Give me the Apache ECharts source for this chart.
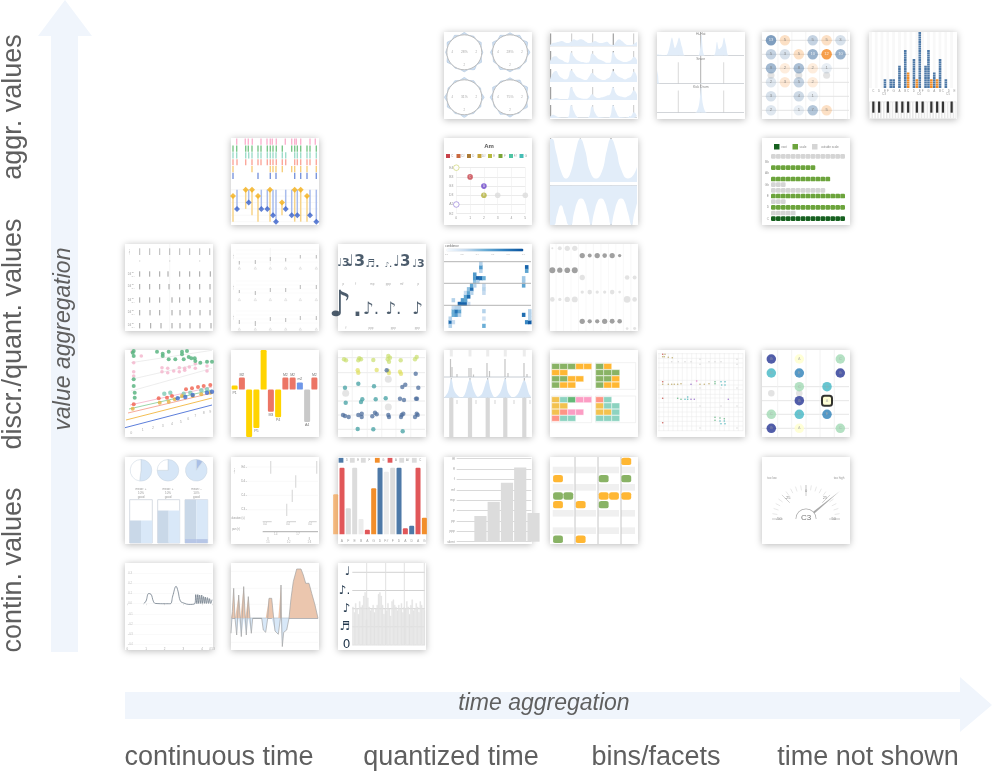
<!DOCTYPE html>
<html><head><meta charset="utf-8">
<style>html,body{margin:0;padding:0;background:#fff}#c{width:997px;height:773px;filter:blur(.35px)}</style>
<script src="https://cdn.jsdelivr.net/npm/echarts@6/dist/echarts.min.js"></script>
</head><body><div id="c"></div>
<script>
// ---------- Labels ----------
const yLabels=[['aggr. values',107],['discr./quant. values',334],['contin. values',570]];
const xLabels=[['continuous time',219],['quantized time',451],['bins/facets',656],['time not shown',868]];

// ---------- Row 0 data ----------
const ringPct=['28%','28%','31%','75%'];
const ringA=[1.14,1,1.07,1,1.12,1,1.06,1,1.14,1,1.17,1,1.12,1,1.05,1,1.14,1,1.07,1,1.14,1,1.12,1];
const ringB=[1.12,1,1.12,1,1.17,1,1.15,1,1.07,1,1.09,1,1.12,1,1.14,1,1.09,1,1.12,1,1.15,1,1.12,1];
const ringC=[1.14,1,1.09,1,1.07,1,1.14,1,1.09,1,1.07,1,1.17,1,1.07,1,1.12,1,1.14,1,1.07,1,1.09,1];
const ringD=[1.12,1,1.14,1,1.17,1,1.07,1,1.15,1,1.05,1,1.14,1,1.12,1,1.05,1,1.14,1,1.15,1,1.07,1];
const pracRow1=[.1,.25,.3,.35,.4,.3,.25,.35,.55,.45,.55,.5,.35,.25,.3,.4,.3,.25,.3,.35,.15,.1,.35,.55,.4,.2,.1,.1,.2,.35];
const pracRow2=[.2,.55,.6,.4,.3,.15,.1,.9,.55,.3,.2,.15,.1,.15,.8,.65,.4,.3,.2,.1,.1,.95,.5,.3,.2,.15,.2,.3,.55,.3];
const pracRow3=[.2,.7,.85,.5,.3,.2,.3,.9,.7,.4,.3,.2,.15,.4,.7,.5,.3,.2,.15,.25,.4,.85,.6,.4,.3,.2,.3,.4,.8,.4];
const pracRow4=[.05,.1,.15,.1,.05,.05,.1,1,.6,.25,.15,.1,.1,.2,.45,.25,.15,.2,.25,.35,.45,1,.5,.3,.25,.2,.3,.45,.75,.4];
const pracRow5=[.1,.25,.15,.05,.02,.02,.05,1,.5,.1,.02,.02,.02,.1,.9,.4,.1,.05,.02,.02,.1,1,.5,.1,.05,.02,.05,.15,.45,.15];
const drumNames=['Hi-Hat','Snare','Kick Drum'];
const hiHat=[[0,.05],[9,.02],[12,.3],[15,.85],[18,.35],[20,.55],[22,.85],[25,.4],[28,0],[41,0],[43,.3],[44.5,1],[46,.2],[48,0],[57,.02],[60,.65],[62,.3],[65,.45],[67,.85],[69,.5],[72,0],[87,0]];
const snare=[[0,.55],[1,.35],[3,0],[42,0],[44,.02],[46,0],[87,0]];
const kick=[[0,0],[38,0],[42,.3],[44,1],[46,.3],[50,0],[87,0]];
const chordCounts=[[0,0,13,'b'],[1,0,5,'o'],[3,0,5,'b'],[4,0,5,'o'],[5,0,3,'b'],[0,1,5,'b'],[1,1,3,'b'],[2,1,5,'o'],[3,1,10,'b'],[4,1,12,'o'],[5,1,10,'b'],[0,2,9,'b'],[1,2,2,'o'],[2,2,8,'b'],[3,2,2,'o'],[4,2,1,'b'],[0,3,2,'b'],[1,3,3,'o'],[2,3,5,'b'],[3,3,2,'o'],[0,4,3,'b'],[2,4,4,'b'],[3,4,1,'b'],[0,5,2,'b'],[2,5,1,'b'],[3,5,7,'b'],[4,5,5,'o']];
const chordMissing=[[0,2.5],[2,2.5],[4,2.5]];
const pianoNotes=['','C','','D','','E','F','','G','','A','','B','C','','D','','E','F','','G','','A','','B','C','','D','','E'];
const pianoBlue=[[5,3],[7,3],[8,3],[10,9],[12,16],[15,12],[17,24],[19,9],[20,16],[22,6],[24,12],[26,3]];
const pianoOrange=[[13,6],[16,3],[21,3],[23,3]];
const pianoBlack=[1,3,6,9,11,13,16,18,21,23,25,28];
const pianoOctaves=['C3','C4','C5'];

// ---------- Row 1 data ----------
const rugPink=[5.7,14.3,17.3,21.3,30,36,39.3,41.3,45.3,54.3,60.7,63.7,65.3,69.7,79,84.3];
const rugGreen=[2,5.7,14.7,17.3,21,27,30,36.3,39.3,42,45.3,51.3,60.7,63.7,66.3,69.7,76,79,85.3];
const rugTeal=[2,5.7,14.7,17.7,21,27,30,36.3,39.3,42,45,51.3,54.7,63.7,66.3,69.7,76,79,85.3];
const rugSalmon=[2,6,14.7,21,27,30,36.3,39.3,42,45.3,51.3,54.7,63.7,66.3,69.7,76,79,85.3];
const rugYellow=[2,21,39.3,42,45,51.3,60.7,63.7,69.7,76,85.3];
const rugBlue=[2,27,39.3,45,63.7,69.7,76,85.3];
const melodyOrange=[[2,1,5],[14.7,0,3],[21,0,4],[27,1,5],[39,0,5],[51,2,4],[63.7,0,5],[69.7,0,5],[76,1,5]];
const melodyBlue=[[6,3],[17.7,2],[30.3,3],[36.3,3],[42,4],[45,5],[54.7,3],[60.7,4],[66.3,4],[79,4],[85.3,5]];
const amFrets=[[0,5,'E',1],[1,4,'C',0],[2,3,'A',0],[2,2,'E',0],[3,2,'',0],[5,2,'',0],[0,1,'A',1]];
const amStrings=['E2','A2','D3','G3','B3','E4'];
const amLegend=['C','C#','D','D#','E','F','F#','G'];
const peaksTop=[[0,1],[2,1],[6,.7],[11,.25],[16,.08],[21,.25],[26,.75],[30.3,1],[35,.75],[40,.25],[46,.08],[52,.25],[57,.75],[61,1],[66,.75],[71,.3],[78,.08],[83,.15],[87,.35]];
const peaksBottom=[[0,1],[4,1],[7,.75],[11,.5],[15,.75],[19,1],[21,1],[24,.7],[28,.38],[31,.33],[34,.38],[38,.7],[41,1],[44,.7],[48,.38],[51,.33],[54,.38],[58,.7],[61,1],[64,.7],[68,.38],[71,.33],[74,.38],[78,.7],[81.7,1],[84,.75],[87,.45]];
const scaleNotes=['C','Db','D','Eb','E','F','Gb','G','Ab','A','Bb','B'];
const scaleRoot=[14,null,null,null,null,null,null,null,null,null,null,null];
const scaleIn=[null,null,14,null,14,null,null,11,null,8,null,null];
const scaleOut=[null,4,null,2,null,10,2,null,null,null,null,14];

// ---------- Row 2 data ----------
const stripCols=[14.7,24.7,34.7,44.7,54.7,64.7,74.7,84.7];
const stripDots=[14.7,44.7,74.7];
const stripRows=[[14.7,24.7,34.7,43,54.7,64.7,74.7,85.3],[14.7,24.7,34.7,44,54.7,64.7,74.7,85],[14.7,24.7,34.7,47,54.7,64.7,75,85],[14.7,25,34.7,47,55,65,75,85],[14.7,25.7,36,47,55,65,75,86]];
const stripRowY=[30,42.7,56,68.7,81.7];
const phraseTicks=[[8.3,17,20.5],[24.3,16,20],[39.3,13,17],[54.7,14,17.5],[69.3,11,14.5],[85.3,11,14.5],[8.3,46,49],[24.3,47,51],[39.3,44,48],[54.7,44,48],[69.3,41,45],[85.3,41,45],[8.3,76,80],[24.3,77,82],[39.3,73,77],[54.7,74,78],[69.3,72,76],[85.3,72,76]];
const phraseCols=[8.3,24.3,39.3,54.7,69.3,85.3];
const noteUpper=[[5.3,19.3,'♩3','p'],[17.7,17.7,'♩3','f'],[34.3,20.3,'♬.','mp'],[50.3,21,'♪.','ppp'],[63.7,17.7,'♩3','mf'],[80.3,20.3,'♩3','p']];
const noteLower=[[8,62.7,'♪.','f'],[33,65.3,'♪.','ppp'],[55.3,65.3,'♪.','ppp'],[79.3,65.3,'♪','ppp']];
const confCols=['0','1','2','3','4','5','6','7','8','9','10','11','12','13','14','15','16','17','18','19','20','21','22','23','24','25','26','27'];
const confRows=['0','1','2','3','4','5','6','7','8','9','10','11','12','13','14','15','16','17'];
const confCells=[[1,1,.85],[1,0,.3],[1,2,.3],[2,3,.5],[2,4,.5],[2,5,.25],[2,1,.25],[2,7,.3],[3,3,.6],[3,4,.8],[3,5,.3],[4,3,.3],[4,4,.55],[4,5,.3],[4,6,.9],[5,6,.9],[5,7,.6],[6,6,.9],[6,7,.55],[6,8,.55],[6,9,.25],[7,8,.85],[7,9,.55],[7,10,.4],[7,6,.25],[8,10,.85],[8,11,.55],[8,9,.3],[9,11,.3],[9,12,.4],[9,13,.6],[9,14,.6],[10,13,.9],[10,12,.3],[11,13,.85],[11,15,.3],[11,16,.6],[11,17,.3],[12,13,.5],[12,11,.25],[12,10,.3],[12,9,.25],[12,4,.3],[12,2,.2],[12,0,.5],[25,11,.55],[25,13,.35],[25,12,.35],[25,3,.85],[26,16,.9],[26,15,.55],[26,1,.7],[27,1,.95],[27,2,.3],[27,3,.3],[27,4,.3]];
const chromaDark=[[4,1,.8],[5,1,.6],[6,1,.8],[7,1,.7],[8,1,.8],[9,1,.5],[0,3,.9],[1,3,.8],[2,3,.85],[3,3,.9],[4,10,.8],[5,10,.65],[6,10,.65],[7,10,.8],[8,10,.75],[9,10,.7]];
const chromaLight=[[0,0,.3],[1,0,.6],[2,0,.8],[3,0,.8],[4,4,.8],[10,4,.7],[11,4,.6],[4,6,.5],[5,6,.7],[6,6,.5],[7,6,.5],[8,6,.7],[9,6,.4],[0,7,.7],[1,7,.5],[2,7,.8],[3,7,.9],[10,7,1],[11,7,.7],[10,11,.4],[11,11,.45]];

// ---------- Row 3 data ----------
const slantGreen=[[8.7,1],[7.7,2.7],[8.7,6],[8.7,29.3],[8.7,36],[9.7,42.7],[9.7,47.7],[32,1.7],[37.7,3.7],[37.7,6],[43.7,1.7],[43.7,9.3],[50.3,9.3],[57,1.7],[57,4.3],[58.7,9.3],[62,1],[63.7,7],[66.3,8.3],[69.7,8.3],[70.3,11],[75.3,12.7],[82,11.7],[87,11.7]];
const slantPink=[[7,1.7],[16.3,6],[8.7,12.7],[8.7,21.7],[8.7,26],[37,17.7],[37,21.7],[42.7,18.3],[42.7,22.7],[48.7,21],[54.3,17.7],[54.3,21.7],[59.7,18.3],[59.7,20.3],[64.3,17],[70.3,13.7],[70.3,18.3],[82,16],[82,21]];
const slantTeal=[[39.3,43.7],[45.3,42.7],[58.7,43.7],[65.3,42.7],[76.3,40.3],[82,39.3]];
const slantRed=[[8.7,54.3],[33.7,48.3],[42,47.7],[47,46],[61,39.3],[67,38.3],[73,37],[78.7,36],[85.3,35]];
const slantYellow=[[7.7,58.7],[34.7,52.7],[43.7,51.7],[49.7,49.3],[57,46],[67.7,46],[76.3,44.3],[85.3,42.7]];
const slantBlue=[[52.7,48.3],[60.3,47],[67.7,45],[82,42.7],[87,41.7]];
const slantLinesColored=[[0,77.7,87,55],[1,70,87,48],[3,63,87,43],[4,59,87,40],[5,55,87,37]];
const slantLinesGrey=[[6,41,87,18.3],[6,29.3,87,11],[6,12.7,87,.3]];
const slantTicks=[[6.3,82.7,'0'],[17.7,80.3,'1'],[28,78.3,'2'],[37.7,76,'3'],[47,74.3,'4'],[55.7,72,'5'],[63.3,69.3,'6'],[70.3,66,'7'],[78.7,63.3,'8'],[85.3,61.7,'9']];
const intervalNames=['P1','M2','','P5','','M3','P4','M2','M2','m2','A4','M2'];
const intervalValues=[0,2,-8,-6.4,7,-3.7,-4.6,2,2,1.2,-5.4,2];
const vGreen=[[6,9.3],[8,10.3],[21.3,8.3],[23,9.3],[20.3,10.3],[35.3,10],[50.3,6],[52,7.7],[49.7,9.3],[51,11.7],[62.7,10.3],[78.7,7],[77,9.3]];
const vYellow=[[19.7,20.3],[20.3,22.7],[38.7,20],[50.3,21],[51,23],[62,21.7],[63,23.7]];
const vPurple=[[77.7,23.7],[48.7,20.3],[64.3,37],[67.3,34.7],[80.3,37.7],[62,48.7],[66,50],[78,48.7],[79,48.7],[5,65],[7,66],[10.7,67],[20.3,65],[23.7,63.7],[23.7,67],[34.3,66.3],[37,62.7],[38.7,64.3],[50.3,65],[51,67],[63.7,65],[65.3,63.7],[63,67],[77,67],[78.7,63.7],[79.7,65]];
const vTeal=[[7,37.7],[20.3,33.7],[36,36.3],[7.7,52.7],[24.3,49.3],[23,52],[37.7,49.3],[47.7,48.3],[19.7,79],[35.3,79.3],[64.7,81.3]];
const vGrey=[[7.7,43.3],[50.3,29.3],[50.3,57]];
const vLinesH=[7.7,22.7,36.7,51,65,79.3];
const vLinesV=[14.3,29.3,43.7,58,72.7];
const beatCols=[7.3,26,43.7,61.3,80.3];
const beatHist=[[6.5,9],[8,17],[13,24],[25,18],[27,18],[29.5,24.5],[43,13],[45.5,21],[61,9],[64,23],[80,13],[83,24]];
const beatDensity=[[0,0],[4,.3],[7.3,1],[10,.4],[14,.1],[18,.02],[21,.2],[26,.95],[30,.35],[34,.05],[38,.2],[43.7,.95],[47,.35],[51,.02],[56,.25],[61.3,1],[64,.3],[69,.02],[74,.2],[80.3,.9],[85,.2],[87,.05]];
const blockPanels=[['gggoo','oo','ggoo','goo'],['go','ggg','ggo','goo'],['ytkpp','yy','yrpp','rtt'],['rt','ytt','yyt','ttt']];
const sparseRed=[[5.7,4.3],[5.7,31.7],[5.7,48.3],[5.7,72.7]];
const sparseBrown=[[8,4.3],[5.7,6.7],[7.3,6.7],[11.3,7.3],[15.3,7.7],[5.7,34.3],[11.3,34.3],[14.7,34.3],[17.3,34.3],[20.7,34.3],[24,33.7],[43,34.3],[47.3,34.3],[52,33.7]];
const sparseGrey=[[14.7,11.7],[21.3,11.7],[28,11.7],[34,11.7],[43,9.3],[43,14.3],[52,11.7],[58,11.7],[64,11.7],[80,9.3],[80,14.3],[43,38],[64,38],[80,38],[43,56],[64,56],[80,56],[43,78],[80,78]];
const sparseGreen=[[20.7,48.3],[24,49.3],[58,31.7],[58,33.7],[58,67.3],[63,68],[67.3,68.7],[58,70.3]];
const sparseTeal=[[28,49.3],[30.7,47],[30.7,49.3],[64,31.7],[68,31.7],[64.7,35],[68,35],[63,71],[67.3,71],[64,73.7],[68,73.7]];
const sparsePurple=[[34,34.3],[34,49.3],[37.3,49.3],[71.3,49.3]];
const sparsePink=[[39.7,31]];
const sparseLinesH=[3.7,8.3,13,17.7,30.3,35,39.7,44.3,48,52.7,57.3,62,66.7,71.3,76,80.7];
const sparseLinesV=[2,6.7,11.3,16,20.7,25.3,30,34.7,39.3,44,48.7,53.3,58,62.7,67.3,72,76.7,81.3,86];
const fretNotes=[[9.3,9,'G'],[37.3,9,'A'],[78.3,9,'C'],[9.3,23,'D'],[37.3,23,'E'],[78.3,23,'G'],[37.3,36.7,'C'],[65,36.7,'D'],[37.3,50.7,'G'],[65,50.7,'A*'],[9.3,64.3,'C'],[37.3,64.3,'D'],[65,64.3,'E'],[9.3,78.3,'G'],[37.3,78.3,'A'],[78.3,78.3,'C']];
const fretMissing=[[9.3,43.3],[37.3,43.3]];
const fretLinesH=[36.7,50.7,64.3,78.3];
const fretLinesV=[15.7,29.7,44,58,72.3];

// ---------- Row 4 data ----------
const gaugeMeans=[[52,48],[75,25],[10,90]];
const gaugeTexts=[['mean: +','10%','good'],['mean: +','10%','good'],['mean: -','10%','good']];
const fillLevels=[52,75,100];
const fillBand=[0,0,9];
const pitchLabels=[['E4',10],['D4',24.3],['C4',38.3],['C3',52.7]];
const pitchSegs=[[39.7,4,16.7],[85.7,4,16.7],[64.7,18.3,30.7],[61.3,32.7,45],[55.7,46.7,59]];
const durSegs=[[31.7,40.7],[55.7,65],[78,85.7]];
const histLegend=[['D','b'],['E','n'],['F','n'],['G','o'],['A','r'],['A#','n'],['C','n']];
const histNotes=['G','A','F','E','B','A','G','D','F#','F','D','A','D','A','G'];
const histKinds=['o','r','n','n','l','r','o','b','l','n','b','r','b','r','o'];
const histValues=[60,100,39,100,23,7,69,100,94,100,100,9,13,100,25];
const dynLevels=['silent','ppp','pp','p','mp','mf','f','ff','fff'];
const dynBars=[[1.79,2.48],[2.79,3.84],[3.79,5.68],[4.79,7.16],[5.79,2.77]];
const rollOrange=[[76.3,0],[8,2],[53.7,4],[64,4],[76.3,4],[8,5],[30.7,5],[30.7,9]];
const rollGreen=[[53.7,2],[76.3,2],[8,4],[18.3,4],[53.7,5],[8,9]];
const rollBands=[1,3,6,8];
const rollBeats=[25,48,71];
const rollSpans=[[2.7,23.7],[25.3,46],[48.3,69],[71,85]];
const tunerCents=28;
const tunerNote='C3';

// ---------- Row 5 data ----------
const envelope=[[.875,0],[1,.026],[1.14,.1],[1.27,.093],[1.39,.026],[1.5,.003],[2.04,0],[2.3,0],[2.43,.076],[2.61,.172],[2.71,.125],[2.84,.026],[3.02,.007],[3.29,-.007],[3.61,0],[3.66,.09],[3.72,0],[3.77,.09],[3.82,.002],[3.87,.085],[3.93,.002],[3.98,.085],[4.03,.003],[4.08,.07],[4.14,.003],[4.18,.065],[4.24,.003],[4.29,.06],[4.35,.003],[4.4,.05],[4.46,.003],[4.53,.04]];
const bendCurve=[[0,-15],[1.3,6.7],[2.7,30],[4,0],[5.7,-16.7],[7.7,23.3],[9.3,0],[10.3,-18.3],[12.7,31.7],[14.3,0],[15.3,-16.7],[17.3,21.7],[19,0],[20.3,-15],[21.7,0],[30.7,0],[32.3,-11.7],[34.7,-14],[36.7,0],[38,20],[40.7,20],[42.7,0],[44,-12.7],[47.3,-16],[49,-15],[49.4,0],[50,33.3],[50.5,0],[51.3,-28.3],[52.7,-14],[55.7,-11.7],[58,0],[60,20],[62.3,36.7],[65.7,49.3],[70,49.3],[72.3,43.3],[74.7,35],[78,35],[80.7,25],[84,13.3],[87,0]];
const durations=[2.1,1.8,2.3,2.0,1.7,2.4,2.1,2.2,2.7,2.9,1.4,2.6,2.1,1.9,2.0,2.2,1.8,2.0,2.2,2.8,2.9,2.7,2.2,1.7,2.0,1.9,2.3,2.0,1.6,2.4,2.5,2.2,2.1,1.9,2.2,2.0,2.3,1.8,2.1,2.0,2.4,2.1,1.7,2.2,2.5,1.9,2.0,2.3,2.1,1.8,2.4,2.2,2.0,1.9];
const durationGlyphs=['0','♬','♪','♪.','♩'];
const durationBeats=[28.7,47.7,66.3,86.3];

// ---------- Framework ----------
const X=[125,231,338,444,550,657,762,869],Y=[32,138,244,350,457,563],S=87;
const FONT='"Liberation Sans",Arial,sans-serif';
const o={animation:false,textStyle:{fontFamily:FONT},grid:[],xAxis:[],yAxis:[],series:[],polar:[],angleAxis:[],radiusAxis:[],visualMap:[],graphic:{elements:[]}};
const gfx=o.graphic.elements;
function card(c,r){gfx.push({type:'rect',z:-10,silent:true,shape:{x:X[c],y:Y[r],width:S+1,height:S},style:{fill:'#fff',shadowBlur:7,shadowColor:'rgba(0,0,0,.28)',shadowOffsetY:1}});}
function tx(c,r,x,y,t,size,color,extra){gfx.push(Object.assign({type:'text',z:50,silent:true,x:X[c]+x,y:Y[r]+y,style:{text:t,fontSize:size,fontFamily:FONT,fill:color||'#999',textAlign:'center',textVerticalAlign:'middle'}},extra||{}));}
function sq(c,r,x,y,w,h,color){gfx.push({type:'rect',z:50,silent:true,shape:{x:X[c]+x,y:Y[r]+y,width:w,height:h},style:{fill:color}});}
function ax(e){const a=Object.assign({type:'value',min:0,max:1,axisLine:{show:false},axisTick:{show:false},axisLabel:{show:false},splitLine:{show:false}},e||{});if(a.type==='category'){delete a.min;delete a.max;}return a;}
function G(c,r,x,y,w,h,xo,yo,go){const i=o.grid.length;o.grid.push(Object.assign({left:X[c]+x,top:Y[r]+y,width:w,height:h,containLabel:false},go||{}));o.xAxis.push(Object.assign(ax(xo),{gridIndex:i}));o.yAxis.push(Object.assign(ax(yo),{gridIndex:i}));return i;}
function full(c,r){return G(c,r,0,0,S,S,{max:S},{max:S,inverse:true});}
function add(type,g,data,extra){const s=Object.assign({type,xAxisIndex:g,yAxisIndex:g,data,silent:true},extra||{});o.series.push(s);return o.series.length-1;}
function seg(g,data,color,width,op){return add('custom',g,data,{clip:true,encode:{x:[0,2],y:[1,3]},renderItem:(p,api)=>{const a=api.coord([api.value(0),api.value(1)]),b=api.coord([api.value(2),api.value(3)]);return {type:'line',shape:{x1:a[0],y1:a[1],x2:b[0],y2:b[1]},style:{stroke:color,lineWidth:width,opacity:op==null?1:op}};}});}
const hl=(g,ys,x0,x1,color,w,op)=>seg(g,ys.map(y=>[x0,y,x1,y]),color,w,op);
const vl=(g,xs,y0,y1,color,w,op)=>seg(g,xs.map(x=>[x,y0,x,y1]),color,w,op);
function dots(g,data,color,size,extra){return add('scatter',g,data,Object.assign({symbolSize:size,itemStyle:{color}},extra||{}));}
function area(g,data,color,extra){return add('line',g,data,Object.assign({showSymbol:false,smooth:true,lineStyle:{width:0},areaStyle:{color,opacity:1}},extra||{}));}
function labels(g,data,size,color){return add('scatter',g,data,{symbolSize:0,clip:false,label:{show:true,position:'inside',fontSize:size,color,fontFamily:FONT,formatter:p=>p.data[2]}});}

for(const [c,r] of [[3,0],[4,0],[5,0],[6,0],[7,0],[1,1],[3,1],[4,1],[6,1],[0,2],[1,2],[2,2],[3,2],[4,2],[0,3],[1,3],[2,3],[3,3],[4,3],[5,3],[6,3],[0,4],[1,4],[2,4],[3,4],[4,4],[6,4],[0,5],[1,5],[2,5]]) card(c,r);

// ---------- Frame: arrows + captions ----------
gfx.push({type:'polygon',z:-20,silent:true,shape:{points:[[51,652],[78,652],[78,36],[92,36],[65,0],[38,36],[51,36]]},style:{fill:'#f0f5fc'}});
gfx.push({type:'polygon',z:-20,silent:true,shape:{points:[[125,692],[960,692],[960,677],[992,705],[960,732],[960,719],[125,719]]},style:{fill:'#f0f5fc'}});
const CAP='#5f5f5f';
yLabels.forEach(([t,y])=>gfx.push({type:'text',silent:true,x:14,y,rotation:Math.PI/2,style:{text:t,fontSize:27,fontFamily:FONT,fill:CAP,textAlign:'center',textVerticalAlign:'middle'}}));
xLabels.forEach(([t,x])=>gfx.push({type:'text',silent:true,x,y:758,style:{text:t,fontSize:27,fontFamily:FONT,fill:CAP,textAlign:'center',textVerticalAlign:'middle'}}));
gfx.push({type:'text',silent:true,x:64,y:339,rotation:Math.PI/2,style:{text:'value aggregation',fontSize:23,fontStyle:'italic',fontFamily:FONT,fill:CAP,textAlign:'center',textVerticalAlign:'middle'}});
gfx.push({type:'text',silent:true,x:544,y:704,style:{text:'time aggregation',fontSize:23,fontStyle:'italic',fontFamily:FONT,fill:CAP,textAlign:'center',textVerticalAlign:'middle'}});

// ---------- (3,0) rings ----------
[[ringA,20.3,20.3],[ringB,66,20.3],[ringC,20.3,65.3],[ringD,66,65.3]].forEach(([vals,cx,cy],i)=>{
  const pi=o.polar.length;const center=[X[3]+cx,Y[0]+cy];
  o.polar.push({center,radius:20.5});
  o.angleAxis.push({polarIndex:pi,type:'value',min:0,max:360,startAngle:90,clockwise:true,show:false});
  o.radiusAxis.push({polarIndex:pi,min:0,max:1.17,show:false});
  const d=vals.map((v,k)=>[v,k*15]);d.push([vals[0],360]);
  o.series.push({type:'line',coordinateSystem:'polar',polarIndex:pi,data:d,silent:true,showSymbol:false,lineStyle:{width:.5,color:'#a9bfd6'},areaStyle:{color:'#cddff2',opacity:1},z:2});
  o.series.push({type:'pie',z:4,center,radius:[0,17.5],silent:true,data:[1],label:{show:false},itemStyle:{color:'#fff',borderColor:'#bcbcbc',borderWidth:1}});
  tx(3,0,cx,cy,ringPct[i],3.4,'#aaa');
  tx(3,0,cx-12,cy,'4',2.8,'#aaa');tx(3,0,cx+12,cy,'2',2.8,'#aaa');tx(3,0,cx,cy+13,'2',2.8,'#aaa');
});
// ---------- (4,0) practice rows ----------
[pracRow1,pracRow2,pracRow3,pracRow4,pracRow5].forEach((row,i)=>{
  const bottom=[14.3,32,50,68,86][i];
  const g=G(4,0,0,bottom-13,S,13,{max:S},{max:1});
  area(g,row.map((v,k)=>[k*3,v]),'#e2edf9');
  vl(g,[21.7,42.7,83.7],0,1,'#b9b9b9',.8);
  vl(g,[.6,63.3],0,1,'#a0a0a0',1.2);
  hl(g,[0],0,S,'#aeb4ba',1);
});
// ---------- (5,0) drum rows ----------
[hiHat,snare,kick].forEach((row,i)=>{
  const top=[0,24,52][i],bottom=[23.7,51.7,80.7][i];
  const g=G(5,0,0,top,S,bottom-top,{max:S},{max:1.1});
  area(g,row,'#e2edf9',{smooth:.3});
  vl(g,[21.3,66.7],0,i?.85:.2,'#cfcfcf',.8);
  vl(g,[43.7],0,1.1,'#b0b0b0',1);
  hl(g,[0],0,S,'#b5bac0',1);
  tx(5,0,43.7,top+(i?3:1.8),drumNames[i],3.4,'#888');
});
// ---------- (6,0) chord counts ----------
{
  const g=G(6,0,0,0,S,S,{min:-.647,max:5.61},{min:-.593,max:5.62,inverse:true});
  vl(g,[0,1,2,3,4,5].map(v=>v+.5),-.6,5.7,'#f1f1f1',.8);
  hl(g,[0,1,2,3,4,5],-.7,5.7,'#e4e4e4',1);
  dots(g,chordMissing,'#dcdcdc',7);
  add('scatter',g,chordCounts.map(([x,y,v,k])=>{
    const a=k==='b'?Math.min(1,.1+v*.062):(v>=12?1:.1+v*.045);
    return {value:[x,y,v],itemStyle:{color:k==='b'?`rgba(78,121,167,${a})`:`rgba(245,135,30,${a})`},label:{color:v>=10?'#fff':'#777'}};
  }),{symbolSize:10.5,label:{show:true,position:'inside',fontSize:4.2,formatter:p=>p.value[2]}});
}
// ---------- (7,0) piano roll histogram ----------
{
  const cats=pianoNotes.map((n,i)=>i);
  const g=G(7,0,0,0,S,56,{type:'category',data:cats,splitArea:{show:true,areaStyle:{color:['#f8f8f8','#fff']}},axisLabel:{show:true,interval:0,fontSize:3,margin:1.5,color:'#999',formatter:(v,i)=>pianoNotes[i]}},{max:24});
  const toBar=a=>cats.map(i=>{const f=a.find(d=>d[0]===i);return f?f[1]:null;});
  const pic={symbol:'rect',symbolRepeat:true,symbolSize:[2.6,2],symbolMargin:.13,barGap:'-100%',z:3};
  add('pictorialBar',g,toBar(pianoBlue),Object.assign({itemStyle:{color:'#4e79a7'}},pic));
  add('pictorialBar',g,toBar(pianoOrange),Object.assign({itemStyle:{color:'#f28e2b'}},pic));
  const k=G(7,0,0,69.5,S,17.5,{type:'category',data:cats},{max:1,inverse:true});
  add('bar',k,cats.map(()=>1),{barWidth:'100%',barGap:'-100%',itemStyle:{color:'#fff',borderColor:'#dcdcdc',borderWidth:.6}});
  add('bar',k,cats.map(i=>pianoBlack.includes(i)?.64:null),{barWidth:2.2,barGap:'-100%',itemStyle:{color:'#333'}});
  [15,50,79].forEach((x,i)=>tx(7,0,x,62.5,pianoOctaves[i],3,'#999'));
}
// ---------- (1,1) rug + lollipop ----------
{
  const g=G(1,1,0,0,S,42,{max:S},{min:-.54,max:5.59,inverse:true});
  [[rugPink,'#fbb3cf'],[rugGreen,'#7cc68a'],[rugTeal,'#9fdcca'],[rugSalmon,'#fba79b'],[rugYellow,'#f6cf7d'],[rugBlue,'#7b96dd']].forEach(([a,col],i)=>{
    seg(g,a.map(x=>[x,i-.45,x,i+.45]),col,1.4);
  });
  const m=G(1,1,0,46,S,41,{max:S},{min:-.89,max:5.52,inverse:true});
  hl(m,[0,1,2,3,4,5],0,S,'#f4f4f4',.6);
  seg(m,melodyOrange.map(d=>[d[0],d[1],d[0],d[2]]),'#f7d48a',1.5);
  seg(m,melodyBlue.map(d=>[d[0],0,d[0],d[1]]),'#a9bcec',1.5);
  dots(m,melodyOrange.map(d=>[d[0],d[1]]),'#f3ae17',6,{symbol:'diamond'});
  dots(m,melodyBlue,'#3a62c9',6,{symbol:'diamond'});
}
// ---------- (3,1) Am fretboard ----------
{
  const g=G(3,1,12.3,29.7,69,46,{max:5,interval:1,splitLine:{show:true,lineStyle:{color:'#eee',width:.6}},axisLabel:{show:true,fontSize:3.4,color:'#999',margin:3}},{max:5,interval:1,splitLine:{show:true,lineStyle:{color:'#e6e6e6',width:.8}},axisLabel:{show:true,fontSize:3.4,color:'#999',margin:3,formatter:v=>amStrings[v]}});
  const col={C:'#c8414a',A:'#6a44c9',E:'#b3b03a','':'#dcdcdc'};
  add('scatter',g,amFrets.map(([x,y,n,open])=>({value:[x,y,n],itemStyle:open?{color:'#fff',borderColor:n==='E'?'#c9d26a':'#8c74d6',borderWidth:.8}:{color:col[n]}})),{symbolSize:5.6,clip:false,label:{show:true,position:'inside',fontSize:2.8,color:'#eee',formatter:p=>p.data.itemStyle.borderColor?'':p.value[2]}});
  tx(3,1,45,8.3,'Am',6,'#555',{style:{text:'Am',fontSize:6,fontWeight:'bold',fontFamily:FONT,fill:'#555',textAlign:'center',textVerticalAlign:'middle'}});
  const lc=['#c8414a','#c9683f','#a97a35','#c4a33b','#b5b83e','#7aa536','#4fc4a3','#45bdb5'];
  amLegend.forEach((n,i)=>{const x=2+i*10.5;sq(3,1,x,16,4,4,lc[i]);if(x+6<S)tx(3,1,x+6.3,18,n,2.8,'#999');});
}
// ---------- (4,1) area peaks ----------
{
  const a=G(4,1,0,0,S,44,{max:S},{max:1.02});
  area(a,peaksTop,'#e2edf9');
  vl(a,[30.3],0,1.02,'#c0c0c0',.9);vl(a,[61,.5],0,1.02,'#a6a6a6',1.3);
  hl(a,[0],0,S,'#bcbcbc',1.2);
  const b=G(4,1,0,47.3,S,39.7,{max:S},{max:1,inverse:true});
  area(b,peaksBottom,'#e2edf9',{areaStyle:{color:'#e2edf9',opacity:1,origin:'start'}});
  vl(b,[21,41,81.7],0,1,'#c0c0c0',.9);vl(b,[.5,61],0,1,'#a6a6a6',1.3);
  hl(b,[0],0,S,'#bcbcbc',1.2);
}
// ---------- (6,1) scale ----------
{
  const g=G(6,1,9,15.5,74,68,{max:14},{type:'category',data:scaleNotes,axisLabel:{show:true,fontSize:3.2,color:'#999',margin:2}});
  const p={symbol:'roundRect',symbolRepeat:true,symbolSize:[4.7,4.7],symbolMargin:.29,barGap:'-100%'};
  add('pictorialBar',g,scaleRoot,Object.assign({itemStyle:{color:'#16601f'}},p));
  add('pictorialBar',g,scaleIn,Object.assign({itemStyle:{color:'#6ca43c'}},p));
  add('pictorialBar',g,scaleOut,Object.assign({itemStyle:{color:'#d5d5d5'}},p));
  sq(6,1,12,6,5.5,5.5,'#16601f');tx(6,1,22,8.8,'root',3,'#888');
  sq(6,1,30.5,6,5.5,5.5,'#6ca43c');tx(6,1,41,8.8,'scale',3,'#888');
  sq(6,1,50,6,5.5,5.5,'#d5d5d5');tx(6,1,68,8.8,'outside scale',3,'#888');
}
// ---------- (0,2) strips ----------
{
  const g=full(0,2);
  vl(g,[44.7],0,S,'#f0f0f0',.6);
  seg(g,stripCols.map(x=>[x,4.3,x,11]),'#999',.7);
  dots(g,stripDots.map(x=>[x,17]),'#ccc',1.4);
  stripRows.forEach((row,i)=>{seg(g,row.map(x=>[x,stripRowY[i]-2.7,x,stripRowY[i]+2.7]),'#888',.8);
    tx(0,2,4.5,stripRowY[i],'D4',2.6,'#999');tx(0,2,8,stripRowY[i]-2,'E4',2.2,'#aaa');tx(0,2,8,stripRowY[i]+2,'C4',2.2,'#aaa');});
  tx(0,2,4,8,'pitch',2.4,'#999',{rotation:Math.PI/2});
}
// ---------- (1,2) phrases ----------
{
  const g=full(1,2);
  hl(g,[6,10,14,18,37,41,45,49,67,71,75,79],5,S,'#f4f4f4',.5);
  vl(g,[39.3],4,21,'#eee',.6);
  seg(g,phraseTicks.map(d=>[d[0],d[1],d[0],d[2]]),'#999',.7);
  [24,55.5,85].forEach(y=>{dots(g,phraseCols.map(x=>[x,y]),'#fff',2.4,{symbol:'triangle',itemStyle:{color:'#fff',borderColor:'#bbb',borderWidth:.4}});
  });
  [12,43,73].forEach(y=>tx(1,2,2.5,y,'pitch',2.3,'#aaa',{rotation:Math.PI/2}));
}
// ---------- (2,2) notes ----------
{
  const g=full(2,2);
  const dyn={ppp:7,p:11,mp:11,mf:15,f:16};
  add('scatter',g,noteUpper.map(([x,y,t,d])=>({value:[x,y,t],label:{fontSize:dyn[d]}})),{symbolSize:0,label:{show:true,position:'inside',color:'#1f3347',fontFamily:'DejaVu Sans',fontWeight:'bold',formatter:p=>p.value[2]}});
  const dyn2={f:36,ppp:17};
  add('scatter',g,noteLower.map(([x,y,t,d])=>({value:[x,y,t],label:{fontSize:dyn2[d]}})),{symbolSize:0,label:{show:true,position:'inside',color:'#1f3347',fontFamily:'DejaVu Sans',formatter:p=>p.value[2]}});
  noteUpper.forEach(d=>tx(2,2,d[0],40.3,d[3],3,'#aaa'));
  noteLower.forEach(d=>tx(2,2,d[0],84,d[3],3,'#aaa'));
}
// ---------- (3,2) confidence heatmap ----------
{
  const g=G(3,2,1.7,17.7,85.6,66,{type:'category',data:confCols},{type:'category',data:confRows});
  const si=add('heatmap',g,confCells,{itemStyle:{borderWidth:0}});
  o.visualMap.push({type:'continuous',seriesIndex:si,min:0,max:1,orient:'horizontal',left:X[3]+2.5,top:Y[2]+4.5,itemWidth:3,itemHeight:77,padding:0,showLabel:false,text:null,calculable:false,inRange:{color:['#f7fbff','#c6dbef','#6baed6','#2f7fbe','#08519c']}});
  tx(3,2,8,2.6,'confidence',2.8,'#666');
  ['0.0','0.2','0.4','0.6','0.8','1.0'].forEach((t,i)=>tx(3,2,2.5+i*15.4,10,t,2.2,'#aaa'));
  const f=full(3,2);
  hl(f,[17.7,39.3,61.3],0,S,'#aaa',.9);
}
// ---------- (4,2) chroma bubbles ----------
{
  const g=G(4,2,0,0,S,S,{min:-.31,max:11.32},{min:-.59,max:11.33,inverse:true});
  vl(g,[.5,1.5,2.5,3.5,4.5,5.5,6.5,7.5,8.5,9.5,10.5],-1,12,'#f3f3f3',.6);
  add('scatter',g,chromaLight,{symbolSize:v=>v[2]*6.6,itemStyle:{color:'#dcdcdc'}});
  add('scatter',g,chromaDark,{symbolSize:v=>v[2]*6.6,itemStyle:{color:'#888'}});
}
// ---------- (0,3) slanted scatter ----------
{
  const g=full(0,3);
  seg(g,slantLinesGrey,'#e5e5e5',.7);
  ['#4a6fd6','#f2b73f','#f5a08e','#8ed1a0','#f7b8ce'].forEach((c,i)=>seg(g,[slantLinesColored[i]],c,.9));
  dots(g,slantPink,'#f4b4cc',3.6);
  dots(g,slantGreen,'#5cb582',4,{itemStyle:{color:'#5cb582',opacity:.85}});
  dots(g,slantTeal,'#7fc9b4',4.4);
  dots(g,slantRed,'#f0604d',4);
  dots(g,slantYellow,'#e6b240',4);
  dots(g,slantBlue,'#3f6bcd',4.4);
  labels(g,slantTicks,3.6,'#999');
}
// ---------- (1,3) intervals ----------
{
  const g=G(1,3,0,0,S,S,{type:'category',data:intervalNames.map((n,i)=>i)},{min:-7.9,max:6.6});
  const c=(n,i)=>{if(n==='M2'||n==='M3')return '#ec7565';if(n==='m2')return '#6f97e8';if(n==='A4')return '#c9c9c9';return '#ffd400';};
  add('bar',g,intervalValues.map((v,i)=>({value:v,itemStyle:{color:c(intervalNames[i],i),borderRadius:1.2},label:{show:!!intervalNames[i],position:v>=0&&i?'top':'bottom',formatter:intervalNames[i],fontSize:3.6,color:'#777',distance:1}})),{barWidth:6,barMinHeight:4});
}
// ---------- (2,3) viridis scatter ----------
{
  const g=full(2,3);
  hl(g,vLinesH,0,S,'#ececec',1);vl(g,vLinesV,0,S,'#efefef',.7);
  dots(g,vGrey,'#dedede',7);
  dots(g,vGreen,'#c9de6e',4.4,{itemStyle:{color:'#c9de6e',opacity:.7}});
  dots(g,vYellow,'#dfdf62',4.4,{itemStyle:{color:'#dfdf62',opacity:.7}});
  dots(g,vTeal,'#4ea5a8',4.4,{itemStyle:{color:'#4ea5a8',opacity:.8}});
  dots(g,vPurple,'#4f6f9d',4.4,{itemStyle:{color:'#4f6f9d',opacity:.75}});
}
// ---------- (3,3) beat histograms ----------
{
  const g=full(3,3);
  vl(g,beatCols,0,6.5,'#e4e4e4',3,.7);
  seg(g,beatHist.map(([x,y])=>[x,y,x,27]),'#c4c4c4',1.2);
  hl(g,[27],0,S,'#b7bfc8',.8);
  vl(g,beatCols,48,87,'#d8d8d8',4.2);
  vl(g,[13,32,51,70,86],50,54,'#bbb',.6);
  const a=G(3,3,0,28,S,19.7,{max:S},{max:1.02});
  area(a,beatDensity,'#d7e6f6',{smooth:.35});
  vl(a,beatCols,0,1.02,'#999',.8);
  hl(a,[0],0,S,'#b7bfc8',.9);
}
// ---------- (4,3) blocks ----------
{
  const col={g:'#6ba03e',o:'#ffa500',y:'#f0b323',t:'#70c8b0',k:'#3da655',p:'#fb85b5',r:'#ff7a66'};
  [[1.7,12.7],[45.7,12.7],[1.7,46],[45.7,46]].forEach(([x,y],i)=>{
    const g=G(4,3,x,y,40,26.7,{min:-.5,max:4.5},{min:-.6,max:3.7,inverse:true},{show:true,borderColor:'#eee',borderWidth:.8});
    const pts=[];blockPanels[i].forEach((row,r)=>row.split('').forEach((ch,k)=>pts.push({value:[k,r],itemStyle:{color:col[ch],borderColor:'#fff',borderWidth:.5}})));
    add('scatter',g,pts,{symbol:'rect',symbolSize:[8,5.9]});
  });
}
// ---------- (5,3) sparse notes ----------
{
  const g=full(5,3);
  hl(g,sparseLinesH,1,86,'#e9e9e9',.5);vl(g,sparseLinesV,3,81,'#e9e9e9',.5);
  [[sparseGrey,'#d5d5d5'],[sparseBrown,'#b8a25e'],[sparseGreen,'#58b07a'],[sparseTeal,'#3fb0b5'],[sparsePurple,'#8a5fc2'],[sparsePink,'#e06ac0'],[sparseRed,'#c2443f']].forEach(([d,c])=>dots(g,d,c,1.6));
}
// ---------- (6,3) fretboard ----------
{
  const g=full(6,3);
  hl(g,fretLinesH,0,S,'#e6e6e6',1);vl(g,fretLinesV,0,S,'#efefef',.8);
  dots(g,fretMissing,'#dcdcdc',6.5);
  const col={G:'#253494',D:'#41b6c4',E:'#2c7fb8',C:'#a1dab4',A:'#ffffcc'};
  add('scatter',g,fretNotes.map(([x,y,n])=>{const hi=n==='A*',k=n[0];return {value:[x,y,k],symbol:hi?'roundRect':'circle',symbolSize:hi?10:9.5,itemStyle:{color:col[k],borderColor:hi?'#000':undefined,borderWidth:hi?2:0}};}),{label:{show:true,position:'inside',fontSize:3.8,color:'#aaa',formatter:p=>p.value[2]}});
}
// ---------- (0,4) pies and fills ----------
{
  const pieC=[16,43,71.3];
  gaugeMeans.forEach((v,i)=>{
    const cols=i===2?['#a9bfe6','#d6e6f7']:['#d6e6f7','#fff'];
    o.series.push({type:'pie',silent:true,center:[X[0]+pieC[i],Y[4]+13.3],radius:[0,10.8],startAngle:90,clockwise:true,label:{show:false},data:v.map((d,k)=>({value:d,itemStyle:{color:cols[k],borderColor:'#c7d2de',borderWidth:.5}}))});
    gaugeTexts[i].forEach((t,k)=>tx(0,4,pieC[i],32.3+k*3.7,t,3,'#999'));
  });
  [[4.7,22.6],[32.7,22],[60,22.7]].forEach(([x,w],i)=>{
    const g=G(0,4,x,42.7,w,43.3,{type:'category',data:['a','b']},{max:100},{show:true,borderColor:'#d2d8e0',borderWidth:.9});
    add('bar',g,[{value:fillLevels[i],itemStyle:{color:'#c9d8e8'}},{value:fillLevels[i],itemStyle:{color:'#d9e8f8'}}],{barWidth:'100%',barGap:'-100%'});
    if(fillBand[i])add('bar',g,[fillBand[i],fillBand[i]],{barWidth:'100%',barGap:'-100%',itemStyle:{color:'#b7c6e6'}});
  });
}
// ---------- (1,4) pitch/duration strip ----------
{
  const g=full(1,4);
  hl(g,pitchLabels.map(d=>d[1]),12,S,'#f5f5f5',.6);
  seg(g,pitchSegs.map(d=>[d[0],d[1],d[0],d[2]]),'#dedede',1.3);
  seg(g,durSegs.map(d=>[d[0],64.7,d[1],64.7]),'#bbb',.7);
  hl(g,[74.7],31.7,S,'#888',.7);
  vl(g,[37,57.7,78.3],80,83,'#bbb',.7);
  pitchLabels.forEach(d=>tx(1,4,13,d[1],d[0]+' -',2.8,'#999'));
  tx(1,4,3,14,'pitch',2.4,'#999',{rotation:Math.PI/2});
  tx(1,4,7,61.7,'duration (s)',2.6,'#999');tx(1,4,5,72.7,'pan (r)',2.6,'#999');
  [34,57,79].forEach(x=>tx(1,4,x,67.3,'0.4',2.6,'#aaa'));
  tx(1,4,44.7,77.3,'1.4',2.6,'#aaa');tx(1,4,67,77.3,'1.7',2.6,'#aaa');
  [37,57.7,78.3].forEach((x,i)=>tx(1,4,x,85,'1:'+(i+1),2.6,'#aaa'));
}
// ---------- (2,4) note histogram ----------
{
  const g=G(2,4,0,10.7,S,66.6,{min:.368,max:14.1},{max:100});
  const c={r:'#e15759',n:'#dcdcdc',l:'#ececec',o:'#f28e2b',b:'#4e79a7'};
  add('bar',g,histValues.map((v,i)=>({value:[i,v],itemStyle:{color:c[histKinds[i]],borderRadius:[1,1,0,0],opacity:i===0?.6:1}})),{barWidth:5});
  labels(g,histNotes.map((n,i)=>[i,-9.5,n]).slice(1),3.4,'#888');
  histLegend.forEach(([n,k],i)=>{const x=[3,14.3,25.3,39.3,52,63.7,76.3][i];sq(2,4,x-2.4,.9,4.8,4.8,c[k]);tx(2,4,x+6,3.3,n,2.8,'#999');});
}
// ---------- (3,4) dynamics ----------
{
  const g=G(3,4,12.7,1.7,74.6,83,{min:0,max:5.625},{max:8,interval:1,splitLine:{show:true,lineStyle:{color:'#cfcfcf',width:.8}},axisLabel:{show:true,fontSize:3.2,color:'#999',margin:2,formatter:v=>dynLevels[v]}});
  add('bar',g,dynBars,{barWidth:12.2,itemStyle:{color:'#dcdcdc'},z:3});
}
// ---------- (4,4) roll ----------
{
  const g=G(4,4,0,0,S,S,{max:S},{min:-.5,max:9.54,inverse:true});
  rollBands.forEach(r=>seg(g,rollSpans.map(s=>[s[0],r,s[1],r]),'#f0f0f0',6.6));
  vl(g,rollBeats,-1,10,'#c6c6c6',1);
  const b={symbol:'roundRect',symbolSize:[9.8,7.4]};
  add('scatter',g,rollOrange,Object.assign({itemStyle:{color:'#ffa500'}},b));
  add('scatter',g,rollGreen,Object.assign({itemStyle:{color:'#6ba03e'}},b));
}
// ---------- (6,4) tuner gauge ----------
{
  const center=[X[6]+44,Y[4]+62];
  o.series.push({type:'gauge',silent:true,center,radius:44,startAngle:180,endAngle:0,min:-50,max:50,splitNumber:4,
    axisLine:{show:false},splitLine:{length:11,distance:0,lineStyle:{color:'#c4c4c4',width:.8}},axisTick:{splitNumber:5,length:5,distance:0,lineStyle:{color:'#dedede',width:.7}},
    axisLabel:{distance:3,fontSize:4,color:'#888'},
    pointer:{length:'100%',width:1.4,itemStyle:{color:'#a8a8a8'}},anchor:{show:true,size:20.5,showAbove:true,itemStyle:{color:'#fff'}},
    title:{show:false},detail:{show:false},data:[{value:tunerCents}]});
  o.series.push({type:'gauge',silent:true,center,radius:10.5,startAngle:180,endAngle:0,z:6,axisLine:{lineStyle:{width:.7,color:[[1,'#aaa']]}},splitLine:{show:false},axisTick:{show:false},axisLabel:{show:false},pointer:{show:false},detail:{show:false},title:{show:false},data:[{value:0}]});
  tx(6,4,44,60.5,tunerNote,8,'#777');
  tx(6,4,10,21,'too low',3,'#999');tx(6,4,77,21,'too high',3,'#999');
}
// ---------- (0,5) envelope ----------
{
  const g=G(0,5,2.3,10.3,84.7,71,{min:0,max:4.53,interval:1,axisLabel:{show:true,fontSize:3,color:'#aaa',margin:3},axisTick:{show:true,length:1.5,lineStyle:{color:'#ccc',width:.5}}},{min:-.4,max:.3,interval:.1,splitLine:{show:true,lineStyle:{color:'#f6f6f6',width:.6}},axisLabel:{show:true,inside:true,fontSize:2.6,color:'#bbb',margin:1,formatter:v=>v.toFixed(1)}});
  add('line',g,envelope,{showSymbol:false,smooth:.4,lineStyle:{color:'#5d6b7a',width:.7}});
}
// ---------- (1,5) bend ----------
{
  const g=G(1,5,0,0,S,S,{max:S},{min:-31.7,max:55.3});
  hl(g,[47,30,14,-14,-24],0,S,'#f3f3f3',.6);
  add('line',g,bendCurve.map(([x,v])=>[x,Math.max(v,0)]),{showSymbol:false,lineStyle:{width:0},areaStyle:{color:'#ebc6ae',opacity:1}});
  add('line',g,bendCurve.map(([x,v])=>[x,Math.min(v,0)]),{showSymbol:false,lineStyle:{width:0},areaStyle:{color:'#d8e8f8',opacity:1}});
  add('line',g,bendCurve,{showSymbol:false,lineStyle:{color:'#a3a3a3',width:.7}});
  hl(g,[0],0,S,'#6f8091',.8);
}
// ---------- (2,5) durations ----------
{
  const g=G(2,5,14.3,0,72.7,82,{type:'category',data:durations.map((d,i)=>i)},{min:0,max:4.51,interval:1,axisLabel:{show:true,fontSize:12,color:'#22374c',fontFamily:'DejaVu Sans',margin:2,formatter:v=>durationGlyphs[v]||''}});
  add('bar',g,durations,{barCategoryGap:'0%',itemStyle:{color:'#e2e2e2',borderColor:'#e2e2e2',borderWidth:.4}});
  const f=full(2,5);
  hl(f,[9.3,27.5,45.7,63.8],14.3,S,'#d2d2d2',1);
  vl(f,durationBeats,0,82,'#dedede',.9);
  hl(f,[82],14.3,S,'#dcdcdc',.8);
}
echarts.init(document.getElementById('c'),null,{renderer:'canvas'}).setOption(o);
</script></body></html>
